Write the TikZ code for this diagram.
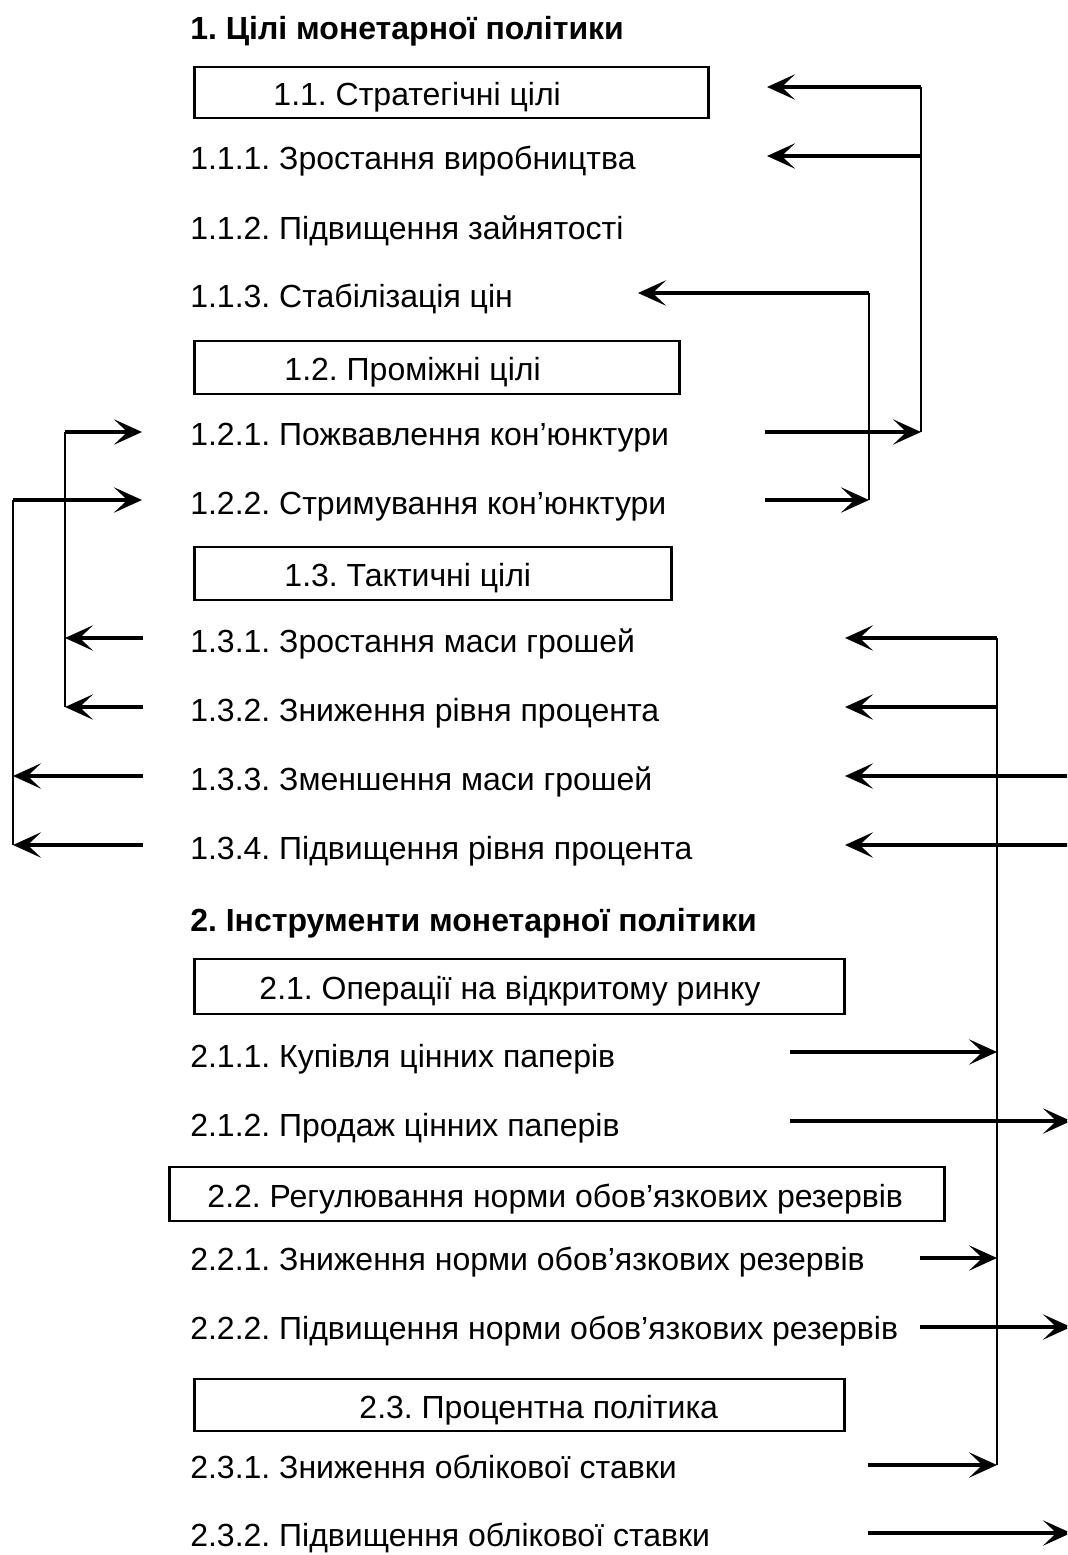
\documentclass[tikz,border=0pt]{standalone}
\usepackage{fontspec}
\setmainfont{Liberation Sans}
\usetikzlibrary{arrows.meta}
\newdimen\pxu
\pxu=0.75pt
% framed label: #1 = frame width, #2 = left padding before the text
\newcommand{\framedlabel}[3]{\makebox[#1\pxu][l]{\hspace*{#2\pxu}#3}}
\begin{document}
\frenchspacing
\begin{tikzpicture}[x=0.75pt,y=-0.75pt,
  font=\fontsize{24pt}{29pt}\selectfont,
  txt/.style={anchor=base west, inner sep=0pt},
  head/.style={txt, font=\fontsize{24pt}{29pt}\selectfont\bfseries},
  box/.style={draw, line width=2.2pt, anchor=base west, inner sep=0pt,
    text height=#1*0.5\pxu+13\pxu, text depth=#1*0.5\pxu-13\pxu},
  conn/.style={line width=2.4pt, -{Stealth[length=21pt,width=19pt,inset=10pt]}},
  bus/.style={line width=2pt}
]
\useasboundingbox (0,0) rectangle (1067,1555);
\clip (0,0) rectangle (1067,1555);

% ---- section 1: goals ----
\node[head] (h1) at (190,40) {1. Цілі монетарної політики};
\node[box=51] (b11) at (193,105.5)
  {\framedlabel{514}{79}{1.1. Стратегічні цілі}};
\node[txt] (t111) at (190,170) {1.1.1. Зростання виробництва};
\node[txt] (t112) at (190,239) {1.1.2. Підвищення зайнятості};
\node[txt] (t113) at (190,307) {1.1.3. Стабілізація цін};
\node[box=53] (b12) at (193,380.5)
  {\framedlabel{485}{90}{1.2. Проміжні цілі}};
\node[txt] (t121) at (190,445) {1.2.1. Пожвавлення кон’юнктури};
\node[txt] (t122) at (190,514) {1.2.2. Стримування кон’юнктури};
\node[box=53] (b13) at (193,586.5)
  {\framedlabel{477}{90}{1.3. Тактичні цілі}};
\node[txt] (t131) at (190,652) {1.3.1. Зростання маси грошей};
\node[txt] (t132) at (190,721) {1.3.2. Зниження рівня процента};
\node[txt] (t133) at (190,790) {1.3.3. Зменшення маси грошей};
\node[txt] (t134) at (190,859) {1.3.4. Підвищення рівня процента};

% ---- section 2: instruments ----
\node[head] (h2) at (190,931) {2. Інструменти монетарної політики};
\node[box=55] (b21) at (193,999.5)
  {\framedlabel{650}{65}{2.1. Операції на відкритому ринку}};
\node[txt] (t211) at (190,1067) {2.1.1. Купівля цінних паперів};
\node[txt] (t212) at (190,1136) {2.1.2. Продаж цінних паперів};
\node[box=54] (b22) at (168,1207)
  {\framedlabel{775}{38}{2.2. Регулювання норми обов’язкових резервів}};
\node[txt] (t221) at (190,1270) {2.2.1. Зниження норми обов’язкових резервів};
\node[txt] (t222) at (190,1339) {2.2.2. Підвищення норми обов’язкових резервів};
\node[box=52] (b23) at (193,1418)
  {\framedlabel{650}{165}{2.3. Процентна політика}};
\node[txt] (t231) at (190,1478) {2.3.1. Зниження облікової ставки};
\node[txt] (t232) at (190,1546) {2.3.2. Підвищення облікової ставки};

% ---- junction points of the connectors ----
\coordinate (A121) at (765,432);  \coordinate (Abot) at (921,432);
\coordinate (Atop) at (921,87);   \coordinate (Amid) at (921,156);
\coordinate (Ab11) at (767,87);   \coordinate (At111) at (767,156);

\coordinate (B122) at (765,500);  \coordinate (Bbot) at (869,500);
\coordinate (Btop) at (869,293);  \coordinate (Bt113) at (638,293);

\coordinate (C131) at (143,638);  \coordinate (Cm) at (65,638);
\coordinate (C132) at (143,707);  \coordinate (Cbot) at (65,707);
\coordinate (Ctop) at (65,432);   \coordinate (Ct121) at (142,432);

\coordinate (D133) at (143,776);  \coordinate (Dm) at (13,776);
\coordinate (D134) at (143,845);  \coordinate (Dbot) at (13,845);
\coordinate (Dtop) at (13,500);   \coordinate (Dt122) at (142,500);

\coordinate (E211) at (790,1052); \coordinate (Em1) at (997,1052);
\coordinate (E221) at (920,1258); \coordinate (Em2) at (997,1258);
\coordinate (E231) at (868,1465); \coordinate (Ebot) at (997,1465);
\coordinate (Etop) at (997,638);  \coordinate (Em3) at (997,707);
\coordinate (Et131) at (845,638); \coordinate (Et132) at (845,707);

\coordinate (F212) at (790,1121); \coordinate (Fm1) at (1071,1121);
\coordinate (F222) at (920,1327); \coordinate (Fm2) at (1071,1327);
\coordinate (F232) at (868,1533); \coordinate (Fbot) at (1071,1533);
\coordinate (Ftop) at (1071,776); \coordinate (Fm3) at (1071,845);
\coordinate (Ft133) at (845,776); \coordinate (Ft134) at (845,845);

% ---- revival of the market: towards strategic goals ----
\draw[conn] (A121) -- (Abot);
\draw[bus]  (Abot) -- (Atop);
\draw[conn] (Atop) -- (Ab11);
\draw[conn] (Amid) -- (At111);

% ---- restraint: towards price stability ----
\draw[conn] (B122) -- (Bbot);
\draw[bus]  (Bbot) -- (Btop);
\draw[conn] (Btop) -- (Bt113);

% ---- tactical goals feeding intermediate goals ----
\draw[conn] (C131) -- (Cm);
\draw[conn] (C132) -- (Cbot);
\draw[bus]  (Cbot) -- (Ctop);
\draw[conn] (Ctop) -- (Ct121);

\draw[conn] (D133) -- (Dm);
\draw[conn] (D134) -- (Dbot);
\draw[bus]  (Dbot) -- (Dtop);
\draw[conn] (Dtop) -- (Dt122);

% ---- expansionary instruments ----
\draw[conn] (E211) -- (Em1);
\draw[conn] (E221) -- (Em2);
\draw[conn] (E231) -- (Ebot);
\draw[bus]  (Ebot) -- (Etop);
\draw[conn] (Etop) -- (Et131);
\draw[conn] (Em3) -- (Et132);

% ---- restrictive instruments ----
\draw[conn] (F212) -- (Fm1);
\draw[conn] (F222) -- (Fm2);
\draw[conn] (F232) -- (Fbot);
\draw[bus]  (Fbot) -- (Ftop);
\draw[conn] (Ftop) -- (Ft133);
\draw[conn] (Fm3) -- (Ft134);
\end{tikzpicture}
\end{document}
